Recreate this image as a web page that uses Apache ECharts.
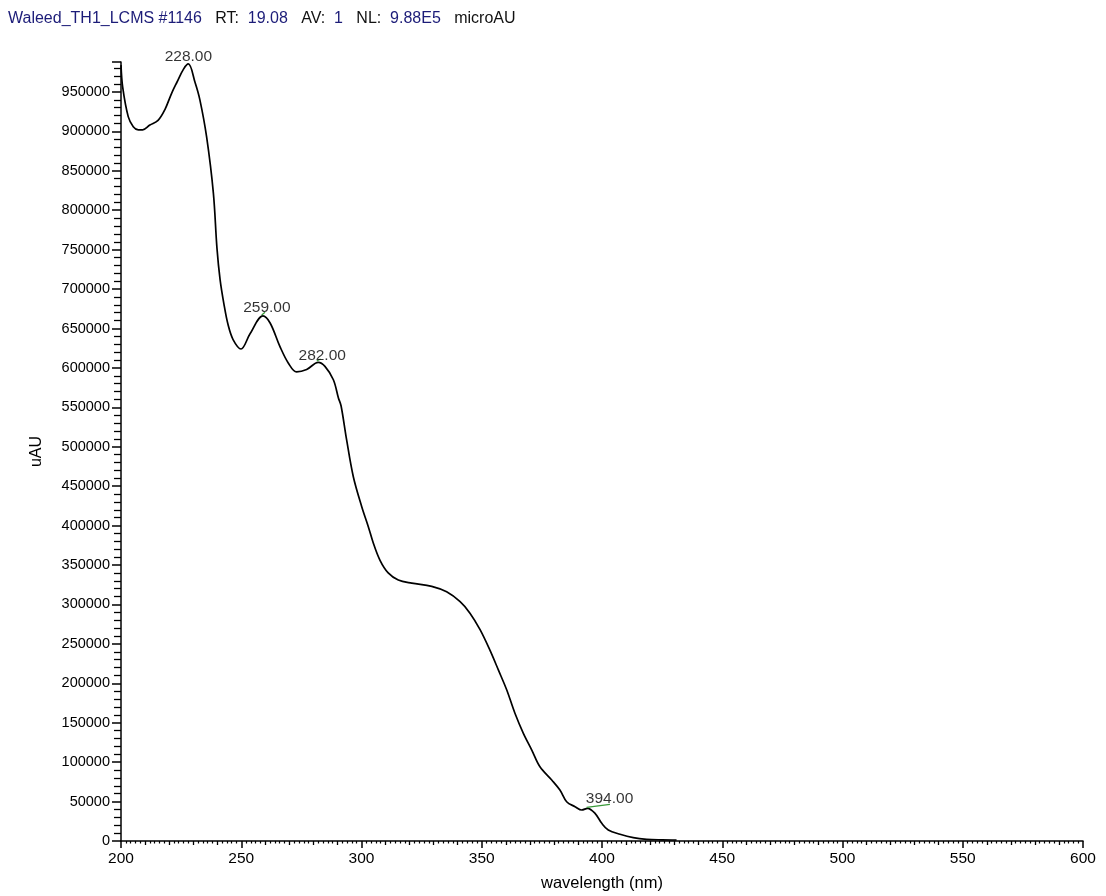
<!DOCTYPE html>
<html>
<head>
<meta charset="utf-8">
<script src="https://cdn.jsdelivr.net/npm/echarts@6/dist/echarts.min.js"></script>
<style>
html,body{margin:0;padding:0;background:#fff;}
#chart{width:1106px;height:896px;}
</style>
</head>
<body>
<div id="chart"></div>
<script>
// Wavelength (nm) and absorbance (uAU)
var wavelength = [200, 200.7, 203, 205.1, 207.2, 209, 212, 215.4, 218.3, 221, 223.2, 226, 228, 230.8, 232.8, 235.6, 238.4, 239.9, 241.2, 242.8, 244.5, 246.6, 249.9, 253.6, 259, 262, 266.1, 269.6, 273, 277.2, 282, 284.8, 288.3, 290.4, 291.5, 293.8, 296.6, 300.1, 302.8, 304.9, 307.7, 311.1, 315.3, 320.9, 329.2, 335.4, 341, 345.1, 349.3, 353.4, 356.9, 360.4, 363.8, 367.3, 370.8, 374.2, 379.1, 382.5, 385.3, 388.8, 391.6, 394, 397.1, 399.9, 402.6, 407.5, 413, 418.6, 425, 431];
var absorbance = [984000, 956000, 918700, 906000, 902000, 902000, 908000, 914000, 928000, 948000, 962000, 979000, 985500, 962000, 940000, 893000, 822000, 752000, 712000, 681000, 655000, 636000, 624000, 643000, 666000, 657000, 627000, 606000, 595000, 598000, 607000, 602000, 585000, 562000, 552000, 509000, 462000, 424000, 399000, 378000, 356000, 340000, 331000, 327000, 323000, 316000, 303500, 289000, 268000, 242000, 217000, 191500, 162000, 136600, 115400, 94200, 77400, 64700, 49800, 43500, 39300, 41500, 35100, 22400, 14000, 8500, 4200, 2100, 1500, 1300];
// Peak annotations
var peakWavelengths = [228, 259, 282, 394];
var peakValues = [985500, 666000, 607000, 41500];
// Green baseline marks near annotated peaks (segments separated by null)
var baseX = [258.5, 259.9, null, 281.4, 283.0, null, 393.6, 403.3];
var baseY = [667000, 670600, null, 608800, 611300, null, 42700, 46500];
// Axis settings
var xMin = 200, xMax = 600, xStep = 50;
var yMin = 0, yMax = 988000, yStep = 50000;

var curve = wavelength.map(function (w, i) { return [w, absorbance[i]]; });
var peaks = peakWavelengths.map(function (w, i) { return [w, peakValues[i]]; });
var base = baseX.map(function (w, i) { return w === null ? [null, null] : [w, baseY[i]]; });
var labelOffsets = [[0, 4], [4, 3], [4, 4], [22, 1]];

var font = 'Liberation Sans, Arial, sans-serif';
var chart = echarts.init(document.getElementById('chart'), null, {renderer: 'canvas'});
chart.setOption({
  animation: false,
  backgroundColor: '#ffffff',
  title: {
    left: 3, top: 6,
    text: '{n|Waleed_TH1_LCMS #1146}   {k|RT:}  {n|19.08}   {k|AV:}  {n|1}   {k|NL:}  {n|9.88E5}   {k|microAU}',
    textStyle: {
      fontFamily: font, fontSize: 16, fontWeight: 'normal',
      rich: {
        n: {color: '#1c1c78', fontFamily: font, fontSize: 16},
        k: {color: '#111111', fontFamily: font, fontSize: 16}
      }
    }
  },
  grid: {left: 121, right: 23, top: 62, bottom: 55, containLabel: false, outerBoundsMode: 'none'},
  xAxis: [{
    type: 'value', min: xMin, max: xMax, interval: xStep,
    name: 'wavelength (nm)', nameLocation: 'middle', nameGap: 34,
    nameTextStyle: {fontFamily: font, fontSize: 16.5, color: '#000'},
    axisLine: {show: true, onZero: false, lineStyle: {color: '#000', width: 1.5}},
    axisTick: {show: true, length: 7, lineStyle: {color: '#000', width: 1.5}},
    minorTick: {show: true, splitNumber: 5, length: 4, lineStyle: {color: '#000', width: 1.3}},
    axisLabel: {fontFamily: font, fontSize: 15.5, color: '#000', margin: 10},
    splitLine: {show: false}
  }, {
    type: 'value', min: xMin, max: xMax, interval: 10, position: 'bottom',
    axisLine: {show: false, onZero: false},
    axisTick: {show: false},
    minorTick: {show: true, splitNumber: 5, length: 2.5, lineStyle: {color: '#000', width: 1.2}},
    axisLabel: {show: false},
    splitLine: {show: false}
  }],
  yAxis: {
    type: 'value', min: yMin, max: yMax, interval: yStep,
    name: 'uAU', nameLocation: 'middle', nameGap: 76, nameRotate: 90,
    nameTextStyle: {fontFamily: font, fontSize: 16, color: '#000'},
    axisLine: {show: true, onZero: false, lineStyle: {color: '#000', width: 1.5}},
    axisTick: {show: true, length: 9, lineStyle: {color: '#000', width: 1.5}},
    minorTick: {show: true, splitNumber: 5, length: 7, lineStyle: {color: '#000', width: 1.3}},
    axisLabel: {fontFamily: font, fontSize: 14.5, color: '#000', margin: 11,
      formatter: function (v) { return v > yMax - 1 ? '' : String(v); }},
    splitLine: {show: false}
  },
  series: [{
    type: 'line', data: curve, showSymbol: false, smooth: 0.35,
    lineStyle: {color: '#000', width: 1.7}, z: 3
  }, {
    type: 'line', data: base, showSymbol: false, connectNulls: false,
    lineStyle: {color: '#3a9a3a', width: 1.3}, z: 4
  }, {
    type: 'scatter', symbolSize: 0.1, z: 5,
    data: peaks.map(function (p, i) {
      return {value: p, label: {offset: labelOffsets[i]}};
    }),
    label: {
      show: true, position: 'top', distance: 3,
      fontFamily: font, fontSize: 15.5, color: '#000',
      formatter: function (p) { return p.value[0].toFixed(2); }
    }
  }]
});
</script>
</body>
</html>
